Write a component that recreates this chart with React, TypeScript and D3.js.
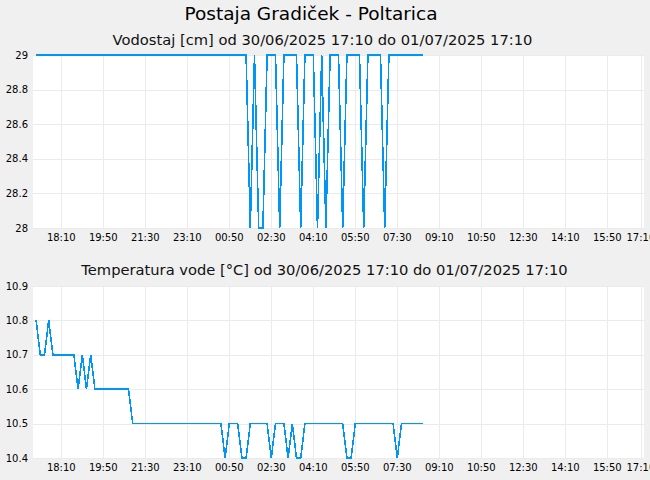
import * as d3 from 'd3';

const parseTime = d3.timeParse('%Y-%m-%d %H:%M');

// Measurement window and sampling (every 10 minutes)
const startTime = parseTime('2025-06-30 17:10') as Date;
const endTime = parseTime('2025-07-01 17:10') as Date;
const sampleMinutes = 10;

const xTickTimes = [
  '2025-06-30 18:10', '2025-06-30 19:50', '2025-06-30 21:30', '2025-06-30 23:10',
  '2025-07-01 00:50', '2025-07-01 02:30', '2025-07-01 04:10', '2025-07-01 05:50',
  '2025-07-01 07:30', '2025-07-01 09:10', '2025-07-01 10:50', '2025-07-01 12:30',
  '2025-07-01 14:10', '2025-07-01 15:50', '2025-07-01 17:10',
];

// Vodostaj [cm]
const levelValues = [
  29, 29, 29, 29, 29, 29, 29, 29, 29, 29,
  29, 29, 29, 29, 29, 29, 29, 29, 29, 29,
  29, 29, 29, 29, 29, 29, 29, 29, 29, 29,
  29, 29, 29, 29, 29, 29, 29, 29, 29, 29,
  29, 29, 29, 29, 29, 29, 29, 29, 29, 29,
  29, 28, 29, 28, 28, 29, 29, 29, 28, 29,
  29, 29, 29, 28, 29, 29, 29, 28, 29, 28,
  29, 29, 29, 28, 29, 29, 29, 29, 28, 29,
  29, 29, 29, 28, 29, 29, 29, 29, 29, 29,
  29, 29, 29,
];
const levelTicks = [28, 28.2, 28.4, 28.6, 28.8, 29];

// Temperatura vode [°C]
const tempValues = [
  10.8, 10.7, 10.7, 10.8, 10.7, 10.7, 10.7, 10.7, 10.7, 10.7,
  10.6, 10.7, 10.6, 10.7, 10.6, 10.6, 10.6, 10.6, 10.6, 10.6,
  10.6, 10.6, 10.6, 10.5, 10.5, 10.5, 10.5, 10.5, 10.5, 10.5,
  10.5, 10.5, 10.5, 10.5, 10.5, 10.5, 10.5, 10.5, 10.5, 10.5,
  10.5, 10.5, 10.5, 10.5, 10.5, 10.4, 10.5, 10.5, 10.5, 10.4,
  10.4, 10.5, 10.5, 10.5, 10.5, 10.5, 10.4, 10.5, 10.5, 10.5,
  10.4, 10.5, 10.4, 10.4, 10.5, 10.5, 10.5, 10.5, 10.5, 10.5,
  10.5, 10.5, 10.5, 10.5, 10.4, 10.4, 10.5, 10.5, 10.5, 10.5,
  10.5, 10.5, 10.5, 10.5, 10.5, 10.5, 10.4, 10.5, 10.5, 10.5,
  10.5, 10.5, 10.5,
];
const tempTicks = [10.4, 10.5, 10.6, 10.7, 10.8, 10.9];

const W = 650;
const H = 480;
const plotLeft = 33;
const plotRight = 644;
const font = '"DejaVu Sans", Verdana, sans-serif';
const lineColor = '#0096f5';
const gridColor = '#ebebeb';

const x = d3.scaleTime().domain([startTime, endTime]).range([36.1, 640.9]);
const tickFormat = d3.timeFormat('%H:%M');

interface PanelProps {
  values: number[];
  ticks: number[];
  top: number;
  bottom: number;
}

function Panel({ values, ticks, top, bottom }: PanelProps) {
  const y = d3.scaleLinear()
    .domain([ticks[0], ticks[ticks.length - 1]])
    .range([bottom, top]);

  const points = values.map((v, i) => ({
    t: d3.timeMinute.offset(startTime, i * sampleMinutes),
    v,
  }));

  const line = d3.line<{ t: Date; v: number }>()
    .x(d => x(d.t))
    .y(d => y(d.v));

  const tickDates = xTickTimes.map(s => parseTime(s) as Date);

  return (
    <g>
      <rect x={plotLeft} y={top} width={plotRight - plotLeft} height={bottom - top} fill="#ffffff" />
      {tickDates.map((d, i) => (
        <line key={'vx' + i} x1={Math.round(x(d)) + 0.5} x2={Math.round(x(d)) + 0.5}
          y1={top} y2={bottom} stroke={gridColor} strokeWidth={1} />
      ))}
      {ticks.map((t, i) => (
        <line key={'hy' + i} x1={plotLeft} x2={plotRight}
          y1={Math.round(y(t)) + 0.5} y2={Math.round(y(t)) + 0.5} stroke={gridColor} strokeWidth={1} />
      ))}
      <path d={line(points) || ''} fill="none" stroke={lineColor} strokeWidth={1.6}
        shapeRendering="crispEdges" />
      {ticks.map((t, i) => (
        <text key={'yl' + i} x={28} y={y(t)} dy="0.35em" textAnchor="end"
          fontFamily={font} fontSize={10} fill="#000">
          {d3.format('')(t)}
        </text>
      ))}
      {tickDates.map((d, i) => (
        <text key={'xl' + i} x={x(d)} y={bottom + 13} textAnchor="middle"
          fontFamily={font} fontSize={10} fill="#000">
          {tickFormat(d)}
        </text>
      ))}
    </g>
  );
}

export default function App() {
  return (
    <svg width={W} height={H} style={{ position: 'absolute', left: 0, top: 0, display: 'block' }}>
      <rect x={0} y={0} width={W} height={H} fill="#f0f0f0" />
      <text x={311} y={20} textAnchor="middle" fontFamily={font} fontSize={18.5} fill="#000">
        Postaja Gradiček - Poltarica
      </text>
      <text x={322.5} y={45} textAnchor="middle" fontFamily={font} fontSize={14.7} fill="#111">
        Vodostaj [cm] od 30/06/2025 17:10 do 01/07/2025 17:10
      </text>
      <Panel values={levelValues} ticks={levelTicks} top={55} bottom={228} />
      <text x={324.5} y={275} textAnchor="middle" fontFamily={font} fontSize={14.7} fill="#111">
        Temperatura vode [°C] od 30/06/2025 17:10 do 01/07/2025 17:10
      </text>
      <Panel values={tempValues} ticks={tempTicks} top={286} bottom={458} />
    </svg>
  );
}
